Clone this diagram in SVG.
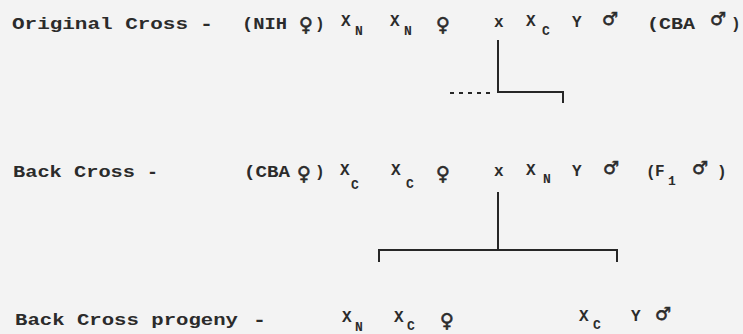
<svg xmlns="http://www.w3.org/2000/svg" width="743" height="334" viewBox="0 0 743 334">
<style>
.w{font-family:"Liberation Mono","Courier New",monospace;font-size:16px;font-weight:bold;fill:#2b2b2b}
.c{font-family:"Liberation Mono","Courier New",monospace;font-size:16px;font-weight:bold;fill:#2b2b2b}
.h{font-family:"Liberation Mono","Courier New",monospace;font-size:18px;font-weight:bold;fill:#2b2b2b}
.s{font-family:"Liberation Mono","Courier New",monospace;font-size:13px;font-weight:bold;fill:#2b2b2b}
.f{font-family:"DejaVu Sans",sans-serif;font-size:19px;fill:#2b2b2b;stroke:#2b2b2b;stroke-width:0.6;text-anchor:middle}
.m{font-family:"DejaVu Sans",sans-serif;font-size:18px;fill:#2b2b2b;stroke:#2b2b2b;stroke-width:0.6;text-anchor:middle}
.ln{fill:none;stroke:#262626;stroke-width:2}
</style>
<rect width="743" height="334" fill="#f3f3f3"/>
<g id="original-cross">
<text class="w" x="12" y="29" textLength="176" lengthAdjust="spacingAndGlyphs">Original Cross</text>
<text class="h" x="200" y="30" textLength="13" lengthAdjust="spacingAndGlyphs">-</text>
<text class="w" x="242" y="29" textLength="45" lengthAdjust="spacingAndGlyphs">(NIH</text>
<text class="f" x="306" y="31">♀</text>
<text class="c" x="315" y="29">)</text>
<text class="c" x="341" y="26">X</text><text class="s" x="355" y="35">N</text>
<text class="c" x="390" y="26">X</text><text class="s" x="404" y="35">N</text>
<text class="f" x="443" y="31">♀</text>
<text class="c" x="494" y="27">x</text>
<text class="c" x="526" y="26">X</text><text class="s" x="542" y="35">C</text>
<text class="c" x="572" y="27">Y</text>
<text class="m" x="610" y="25">♂</text>
<text class="w" x="647" y="29" textLength="48" lengthAdjust="spacingAndGlyphs">(CBA</text>
<text class="m" x="718" y="25">♂</text>
<text class="c" x="731" y="29">)</text>
</g>
<g id="back-cross">
<text class="w" x="13" y="177" textLength="122" lengthAdjust="spacingAndGlyphs">Back Cross</text>
<text class="h" x="147" y="178" textLength="11" lengthAdjust="spacingAndGlyphs">-</text>
<text class="w" x="244" y="177" textLength="46" lengthAdjust="spacingAndGlyphs">(CBA</text>
<text class="f" x="304" y="180">♀</text>
<text class="c" x="315" y="177">)</text>
<text class="c" x="340" y="175">X</text><text class="s" x="351" y="189">C</text>
<text class="c" x="391" y="175">X</text><text class="s" x="406" y="188">C</text>
<text class="f" x="443" y="180">♀</text>
<text class="c" x="494" y="176">x</text>
<text class="c" x="526" y="175">X</text><text class="s" x="543" y="183">N</text>
<text class="c" x="572" y="176">Y</text>
<text class="m" x="611" y="174">♂</text>
<text class="c" x="646" y="177">(</text><text class="c" x="655" y="176">F</text><text class="s" x="668" y="185">1</text>
<text class="m" x="700" y="174">♂</text>
<text class="c" x="717" y="177">)</text>
</g>
<g id="progeny">
<text class="w" x="15" y="325" textLength="223" lengthAdjust="spacingAndGlyphs">Back Cross progeny</text>
<text class="h" x="253" y="326" textLength="13" lengthAdjust="spacingAndGlyphs">-</text>
<text class="c" x="342" y="322">X</text><text class="s" x="355" y="331">N</text>
<text class="c" x="394" y="322">X</text><text class="s" x="407" y="330">C</text>
<text class="f" x="447" y="327">♀</text>
<text class="c" x="579" y="321">X</text><text class="s" x="593" y="329">C</text>
<text class="c" x="631" y="321">Y</text>
<text class="m" x="663" y="320">♂</text>
</g>
<g id="connectors">
<path class="ln" d="M498 40 V92 H563 V103"/>
<path class="ln" d="M450 93 H494" stroke-dasharray="4 5"/>
<path class="ln" d="M498 192 V250"/>
<path class="ln" d="M379 262 V250 H617 V262"/>
</g>
</svg>
